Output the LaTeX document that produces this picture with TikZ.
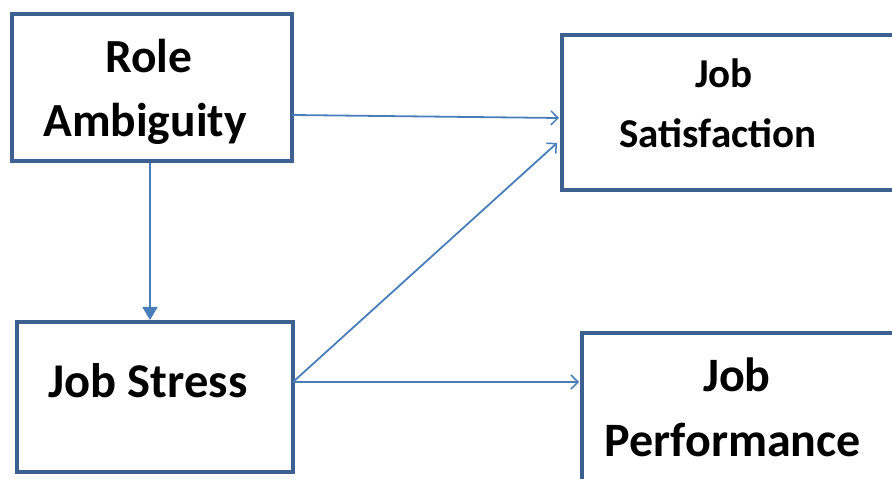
\documentclass[tikz,border=0pt]{standalone}
\usepackage{fontspec}
\setmainfont{Carlito}
\usetikzlibrary{arrows.meta,calc}
\definecolor{boxblue}{HTML}{3E6090}
\definecolor{arrblue}{HTML}{4A7EBB}
\begin{document}
\begin{tikzpicture}[x=1pt,y=1pt,
  box/.style={draw=boxblue,line width=4.5pt,fill=white,rectangle,outer sep=0pt,inner sep=0pt},
  lbl/.style={anchor=base,inner sep=0pt,font=\bfseries},
  conn/.style={draw=arrblue,line width=1.8pt},
  openhead/.style={conn,-{Straight Barb[length=7pt,width=14pt,line width=1.5pt]}},
  fillhead/.style={conn,-{Triangle[length=13pt,width=15pt]}}]
\useasboundingbox (0,0) rectangle (892,479);
\begin{scope}
\clip (0,0) rectangle (892,479);
% boxes (y = 479 - pixel row)
\node[box,minimum width=280pt,minimum height=147pt] (ra) at (152,391.5) {};
\node[box,minimum width=340pt,minimum height=155pt] (sat) at (732,366.5) {};
\node[box,minimum width=276pt,minimum height=150pt] (js) at (155,82) {};
\node[box,minimum width=330pt,minimum height=170pt] (perf) at (747,61) {};
\end{scope}
% texts
\node[lbl,font=\bfseries\fontsize{47.5}{50}\selectfont] (t1) at (149,406) {Role};
\node[lbl,font=\bfseries\fontsize{47.5}{50}\selectfont] (t2) at (145,342) {Ambiguity};
\node[lbl,font=\bfseries\fontsize{41}{45}\selectfont] (t3) at (724,391) {Job};
\node[lbl,font=\bfseries\fontsize{41}{45}\selectfont] (t4) at (718,331) {Satisfaction};
\node[lbl,font=\bfseries\fontsize{48.5}{51}\selectfont] (t5) at (148,81) {Job Stress};
\node[lbl,font=\bfseries\fontsize{48}{51}\selectfont] (t6) at (737,87) {Job};
\node[lbl,font=\bfseries\fontsize{48}{51}\selectfont] (t7) at (733,22) {Performance};
% connector end points
\coordinate (raE) at ($(ra.east)+(0,-27.5)$);
\coordinate (satW1) at ($(sat.west)+(-3,-5.5)$);
\coordinate (satW2) at ($(sat.south west)+(-5,47)$);
\coordinate (jsE) at ($(js.east)+(0,15)$);
\coordinate (perfW) at ($(perf.west)+(-3,0)$);
\coordinate (raS) at ($(ra.south)+(-2,-2)$);
\coordinate (jsN) at ($(js.north)+(-5,2)$);
\draw[fillhead] (raS) -- (jsN);
\draw[openhead] (raE) -- (satW1);
\draw[openhead] (jsE) -- (satW2);
\draw[openhead] (jsE) -- (perfW |- jsE);
\end{tikzpicture}
\end{document}
